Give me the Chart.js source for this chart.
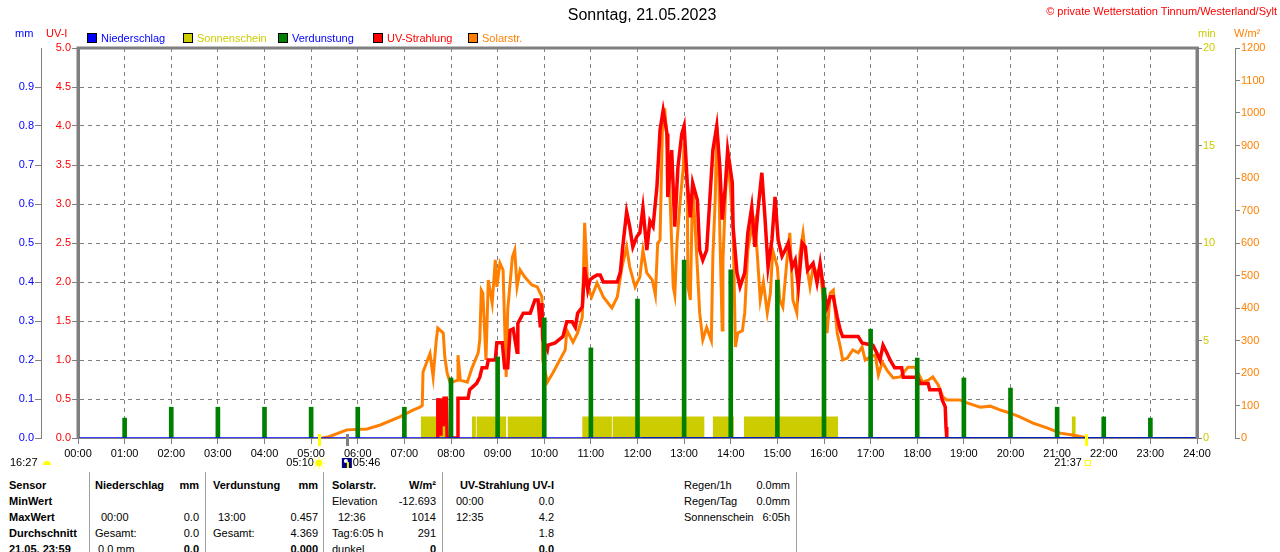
<!DOCTYPE html>
<html>
<head>
<meta charset="utf-8">
<script src="https://cdn.jsdelivr.net/npm/chart.js@4.4.0/dist/chart.umd.min.js"></script>
<style>
body { margin:0; background:#fff; width:1280px; height:552px; overflow:hidden; position:relative;
       font-family:"Liberation Sans", Arial, sans-serif; font-size:11px; }
#stats-chart { position:absolute; left:0; top:0; }
.t { position:absolute; white-space:nowrap; line-height:13px; }
.r { transform:translateX(-100%); }
.b { font-weight:bold; }
.box { position:absolute; width:10px; height:10px; border:1px solid #000; box-sizing:border-box; }
.sep { position:absolute; width:1px; top:472px; height:80px; background:#a0a0a0; }
</style>
</head>
<body>
<canvas id="stats-chart" width="1280" height="470"></canvas>
<div id="overlay"></div>
<script>
// hour ticks (minutes of the day)
const tickMinutes = [0,60,120,180,240,300,360,420,480,540,600,660,720,780,840,900,960,1020,1080,1140,1200,1260,1320,1380,1440];

// Verdunstung, hourly (mm)
const evapTimes = [60,120,180,240,300,360,420,480,540,600,660,720,780,840,900,960,1020,1080,1140,1200,1260,1320,1380];
const evapMm    = [0.051,0.079,0.079,0.079,0.079,0.079,0.079,0.154,0.208,0.308,0.231,0.356,0.456,0.431,0.405,0.385,0.279,0.205,0.154,0.128,0.079,0.054,0.051];
const evapZeroTimes = [725,1440];

// Niederschlag (mm)
const rainTimes = [0,1440];
const rainMm    = [0,0];

// Sonnenschein (min)
const sunStart = [441,507,513,553,649,688,817,857,1279];
const sunEnd   = [475,512,551,598,687,806,844,978,1284];
const sunMin   = [1.1,1.1,1.1,1.1,1.1,1.1,1.1,1.1,1.1];

// Solarstrahlung (W/m²)
const solarTimes = [
  314,322,346,372,389,414,431,440,443,444,
  453,457,461,463,470,472,475,479,488,489,
  492,501,507,515,517,519,521,525,528,533,
  537,539,543,547,551,553,559,562,565,569,
  575,584,591,597,598,604,611,620,627,629,
  637,643,649,652,656,661,668,676,687,694,
  700,706,710,717,723,727,732,739,743,746,
  749,752,755,758,762,766,768,771,775,779,
  780,784,785,788,791,797,800,804,809,815,
  817,820,822,824,826,829,830,835,839,843,
  846,849,855,858,862,867,871,874,878,882,
  887,891,894,900,903,907,912,916,920,925,
  929,933,938,942,946,951,955,959,964,968,
  972,977,981,984,990,997,1004,1009,1013,1019,
  1026,1030,1035,1041,1049,1058,1068,1077,1081,1087,
  1094,1100,1107,1113,1118,1135,1144,1161,1174,1187,
  1199,1212,1229,1247,1264,1280,1293,1297];
const solarW = [
  0,3,25,28,40,65,86,95,100,203,
  260,188,300,338,323,250,200,169,178,255,
  178,172,215,262,300,455,446,240,486,415,
  548,465,538,517,188,394,557,578,465,517,
  495,471,465,434,240,172,200,240,271,332,
  295,323,372,662,465,434,477,434,400,434,
  526,588,526,465,495,578,508,486,440,600,
  609,948,1014,917,732,465,440,609,732,834,
  908,772,465,425,785,526,385,302,340,300,
  560,732,957,886,631,332,548,855,785,649,
  280,323,330,385,578,649,671,570,425,480,
  385,446,578,526,425,403,538,631,425,385,
  569,631,526,465,526,508,526,425,323,446,
  455,323,280,240,246,271,262,280,240,249,
  255,194,234,209,185,188,218,218,200,172,
  178,188,163,126,117,117,108,95,98,86,
  77,65,46,31,15,9,3,0];

// UV-Strahlung (UV-I)
const uvTimes = [
  462,463,466,467,470,471,474,475,488,489,
  502,504,513,517,520,526,528,537,539,546,
  549,553,556,560,565,566,573,582,588,592,
  595,597,598,604,605,614,624,629,636,640,
  643,649,652,656,659,663,668,672,676,694,
  698,701,706,710,714,719,723,727,732,736,
  740,745,749,753,758,759,764,768,772,777,
  780,784,788,791,797,800,804,809,813,817,
  822,826,829,833,836,842,843,848,852,858,
  862,867,871,875,880,884,888,893,897,901,
  906,910,914,919,923,927,932,936,939,946,
  951,955,959,964,968,972,977,981,984,1004,
  1009,1023,1028,1032,1036,1041,1045,1051,1060,1062,
  1080,1084,1094,1096,1109,1112,1116,1117,1118];
const uvIndex = [
  0,0.51,0.05,0.51,0.15,0.51,0.51,0,0,0.51,
  0.51,0.62,0.70,0.78,0.90,0.90,1.0,1.0,1.22,1.22,
  0.90,0.90,1.38,1.40,1.10,1.47,1.60,1.60,1.77,1.77,
  1.42,1.73,1.26,1.13,1.19,1.22,1.30,1.49,1.49,1.42,
  1.60,1.68,2.19,1.90,2.03,2.06,2.09,2.09,2.0,2.0,
  2.13,2.45,2.90,2.71,2.45,2.58,2.63,2.95,2.41,2.78,
  2.71,3.22,3.95,4.2,3.9,3.09,3.69,2.71,3.47,3.9,
  4.0,3.27,2.83,3.27,3.05,2.41,2.28,2.41,3.05,3.69,
  4.0,3.47,2.8,3.22,3.69,3.27,2.71,2.12,1.94,2.12,
  2.63,2.96,2.45,2.92,3.4,2.83,2.19,2.54,3.09,2.54,
  2.33,2.41,2.5,2.19,2.28,1.94,2.5,2.45,2.15,2.24,
  1.99,2.24,1.94,1.68,1.81,1.81,1.55,1.38,1.30,1.30,
  1.22,1.19,1.09,1.0,1.19,1.09,1.0,0.90,0.90,0.78,
  0.78,0.70,0.70,0.62,0.62,0.49,0.40,0.14,0];

// Sonnenauf-/untergang, Dämmerung
const sunriseMin = 310, sunsetMin = 1297, twilightMin = 346;
const sunriseLabel = '05:10', sunsetLabel = '21:37', twilightLabel = '05:46', dayLengthLabel = '16:27';

const pts = (xs, ys) => xs.map((v, i) => ({x: v, y: ys[i]}));
const pad2 = n => String(n).padStart(2, '0');

const sunData = [];
sunStart.forEach((s, i) => {
    sunData.push({x: s, y: 0}, {x: s, y: sunMin[i]}, {x: sunEnd[i], y: sunMin[i]}, {x: sunEnd[i], y: 0});
});

Chart.defaults.font.family = "'Liberation Sans', Arial, sans-serif";
Chart.defaults.font.size = 11;

const framePlugin = {
    id: 'frame',
    afterDraw(chart) {
        const {ctx, chartArea: a, scales: {x}} = chart;
        ctx.save();
        ctx.strokeStyle = '#808080';
        ctx.lineWidth = 3;
        ctx.beginPath();
        ctx.moveTo(a.left, a.bottom);
        ctx.lineTo(a.left, a.top);
        ctx.lineTo(a.right, a.top);
        ctx.lineTo(a.right, a.bottom);
        ctx.stroke();

        const xr = x.getPixelForValue(sunriseMin);
        const xs = x.getPixelForValue(sunsetMin);
        const xt = x.getPixelForValue(twilightMin);
        ctx.fillStyle = '#ffff00';
        ctx.fillRect(Math.round(xr) - 1, a.bottom - 4, 3, 12);
        ctx.fillRect(Math.round(xs) - 1, a.bottom - 4, 3, 12);
        ctx.fillStyle = '#808080';
        ctx.fillRect(Math.round(xt) - 1, a.bottom - 4, 3, 12);

        const ty = 463;
        ctx.fillStyle = '#000';
        ctx.font = "11px 'Liberation Sans', Arial, sans-serif";
        ctx.textBaseline = 'middle';
        ctx.textAlign = 'right';
        ctx.fillText(sunriseLabel, xr - 5, ty);
        ctx.fillText(sunsetLabel, xs - 4, ty);
        ctx.textAlign = 'left';
        ctx.fillText(twilightLabel, xt + 6, ty);
        ctx.fillText(dayLengthLabel, 10, ty);

        // sun icon
        ctx.fillStyle = '#ffff00';
        ctx.beginPath(); ctx.arc(xr, ty, 3.5, 0, Math.PI * 2); ctx.fill();
        ctx.strokeStyle = '#ffff00'; ctx.lineWidth = 1;
        for (let k = 0; k < 8; k++) {
            const ang = k * Math.PI / 4;
            ctx.beginPath();
            ctx.moveTo(xr + Math.cos(ang) * 4.5, ty + Math.sin(ang) * 4.5);
            ctx.lineTo(xr + Math.cos(ang) * 6, ty + Math.sin(ang) * 6);
            ctx.stroke();
        }
        // twilight icon
        ctx.fillStyle = '#000080';
        ctx.fillRect(xt - 5, ty - 5, 10, 10);
        ctx.fillStyle = '#ffffff';
        ctx.beginPath(); ctx.arc(xt - 1, ty - 2, 2, 0, Math.PI * 2); ctx.fill();
        ctx.fillStyle = '#ffff00';
        ctx.fillRect(xt, ty - 1, 2, 6);
        // sunset icon
        ctx.strokeStyle = '#ffff00';
        ctx.strokeRect(xs - 0.5, ty - 2.5, 5, 5);
        // day length icon
        ctx.fillStyle = '#ffff00';
        ctx.beginPath(); ctx.arc(47, ty + 2, 4, Math.PI, 0); ctx.fill();
        ctx.restore();
    }
};

new Chart(document.getElementById('stats-chart'), {
    type: 'line',
    data: {
        datasets: [
            { label: 'Niederschlag', data: pts(rainTimes, rainMm), yAxisID: 'yMm',
              borderColor: '#0000ff', borderWidth: 1.5, pointRadius: 0, order: 0 },
            { label: 'Verdunstung', data: evapZeroTimes.map(t => ({x: t, y: 0})), yAxisID: 'yMm',
              borderColor: '#008000', borderWidth: 2, pointRadius: 0, order: 1 },
            { type: 'bar', label: 'Verdunstung', data: pts(evapTimes, evapMm), yAxisID: 'yMm',
              backgroundColor: '#008000', barThickness: 4, order: 2 },
            { label: 'UV-Strahlung', data: pts(uvTimes, uvIndex), yAxisID: 'yUv',
              borderColor: '#ff0000', borderWidth: 3.5, pointRadius: 0, tension: 0, order: 3 },
            { label: 'Solarstr.', data: pts(solarTimes, solarW), yAxisID: 'yW',
              borderColor: '#ff8000', borderWidth: 3, pointRadius: 0, tension: 0, order: 4 },
            { label: 'Sonnenschein', data: sunData, yAxisID: 'yMin',
              borderWidth: 0, borderColor: 'transparent', backgroundColor: '#cccc00',
              fill: 'origin', pointRadius: 0, order: 5 }
        ]
    },
    options: {
        responsive: false,
        devicePixelRatio: 1,
        animation: false,
        layout: { padding: { top: 48, left: 0, right: 0, bottom: 0 } },
        plugins: { legend: { display: false }, tooltip: { enabled: false }, title: { display: false } },
        scales: {
            x: {
                type: 'linear', min: 0, max: 1440, offset: false,
                afterFit(s) { s.height = 32; },
                afterBuildTicks(s) { s.ticks = tickMinutes.map(v => ({value: v})); },
                ticks: { color: '#000', maxRotation: 0, autoSkip: false, padding: 3,
                         callback: v => pad2(v / 60) + ':00' },
                grid: { offset: false, color: '#808080', lineWidth: 1, tickLength: 6, tickColor: '#808080' },
                border: { color: '#808080', width: 1, dash: [4, 4] }
            },
            yMm: {
                position: 'left', min: 0, max: 1, weight: 1,
                afterFit(s) { s.width = 41; },
                ticks: { stepSize: 0.1, color: '#0000ff', padding: 1,
                         callback: v => v > 0.99 ? '' : v.toFixed(1) },
                grid: { drawOnChartArea: false, tickLength: 6,
                        tickColor: c => c.tick && c.tick.value > 0.99 ? 'transparent' : '#808080' },
                border: { color: '#808080', width: 1 }
            },
            yUv: {
                position: 'left', min: 0, max: 5, weight: 0,
                afterFit(s) { s.width = 37; },
                ticks: { stepSize: 0.5, color: '#ff0000', padding: 1, callback: v => v.toFixed(1) },
                grid: { color: '#808080', lineWidth: 1, tickLength: 6, tickColor: '#808080' },
                border: { color: '#808080', width: 3, dash: [4, 4] }
            },
            yMin: {
                position: 'right', min: 0, max: 20, weight: 0,
                afterFit(s) { s.width = 38; },
                ticks: { stepSize: 5, color: '#cccc00', padding: 1, callback: v => String(v) },
                grid: { drawOnChartArea: false, tickLength: 5, tickColor: '#808080' },
                border: { color: '#808080', width: 3 }
            },
            yW: {
                position: 'right', min: 0, max: 1200, weight: 1,
                afterFit(s) { s.width = 45; },
                ticks: { stepSize: 100, color: '#ff8000', padding: 1, callback: v => String(v) },
                grid: { drawOnChartArea: false, tickLength: 5, tickColor: '#808080' },
                border: { color: '#808080', width: 1 }
            }
        }
    },
    plugins: [framePlugin]
});

// texts around the chart
const overlay = document.getElementById('overlay');
function put(text, x, y, color, cls) {
    const el = document.createElement('div');
    el.className = 't' + (cls ? ' ' + cls : '');
    el.textContent = text;
    el.style.left = x + 'px';
    el.style.top = (y - 6.5) + 'px';
    if (color) el.style.color = color;
    overlay.appendChild(el);
    return el;
}
function box(x, y, color) {
    const el = document.createElement('div');
    el.className = 'box';
    el.style.left = x + 'px';
    el.style.top = (y - 5) + 'px';
    el.style.background = color;
    overlay.appendChild(el);
}

const title = put('Sonntag, 21.05.2023', 642, 15, '#000');
title.style.fontSize = '16px';
title.style.lineHeight = '18px';
title.style.top = '6px';
title.style.transform = 'translateX(-50%)';
put('© private Wetterstation Tinnum/Westerland/Sylt', 1277, 11, '#ff0000', 'r');

put('mm', 15, 33, '#0000ff');
put('UV-I', 46, 33, '#ff0000');
put('min', 1198, 33, '#cccc00');
put('W/m²', 1234, 33, '#ff8000');

const legendItems = [
    ['Niederschlag', '#0000ff', '#0000ff', 87],
    ['Sonnenschein', '#cccc00', '#cccc00', 183],
    ['Verdunstung', '#008000', '#0000ff', 278],
    ['UV-Strahlung', '#ff0000', '#ff0000', 373],
    ['Solarstr.', '#ff8000', '#ff8000', 468]
];
legendItems.forEach(([name, fill, txt, x]) => { box(x, 38, fill); put(name, x + 14, 38, txt); });

// table
[89, 205, 323, 442, 796].forEach(x => {
    const s = document.createElement('div');
    s.className = 'sep';
    s.style.left = x + 'px';
    overlay.appendChild(s);
});
const rows = [485, 501, 517, 533, 549];
const cells = [
    ['Sensor', 9, 0, 'b'], ['Niederschlag', 95, 0, 'b'], ['mm', 199, 0, 'b r'],
    ['Verdunstung', 213, 0, 'b'], ['mm', 318, 0, 'b r'], ['Solarstr.', 332, 0, 'b'],
    ['W/m²', 436, 0, 'b r'], ['UV-Strahlung UV-I', 554, 0, 'b r'],
    ['MinWert', 9, 1, 'b'], ['Elevation', 332, 1], ['-12.693', 436, 1, 'r'], ['00:00', 456, 1], ['0.0', 554, 1, 'r'],
    ['MaxWert', 9, 2, 'b'], ['00:00', 101, 2], ['0.0', 199, 2, 'r'], ['13:00', 218, 2], ['0.457', 318, 2, 'r'],
    ['12:36', 338, 2], ['1014', 436, 2, 'r'], ['12:35', 456, 2], ['4.2', 554, 2, 'r'],
    ['Durchschnitt', 9, 3, 'b'], ['Gesamt:', 95, 3], ['0.0', 199, 3, 'r'], ['Gesamt:', 213, 3], ['4.369', 318, 3, 'r'],
    ['Tag:6:05 h', 332, 3], ['291', 436, 3, 'r'], ['1.8', 554, 3, 'r'],
    ['21.05. 23:59', 9, 4, 'b'], ['0.0 mm', 98, 4], ['0.0', 199, 4, 'b r'], ['0.000', 318, 4, 'b r'],
    ['dunkel', 332, 4], ['0', 436, 4, 'b r'], ['0.0', 554, 4, 'b r'],
    ['Regen/1h', 684, 0], ['0.0mm', 790, 0, 'r'],
    ['Regen/Tag', 684, 1], ['0.0mm', 790, 1, 'r'],
    ['Sonnenschein', 684, 2], ['6:05h', 790, 2, 'r']
];
cells.forEach(([text, x, r, cls]) => put(text, x, rows[r], '#000', cls));
</script>
</body>
</html>
